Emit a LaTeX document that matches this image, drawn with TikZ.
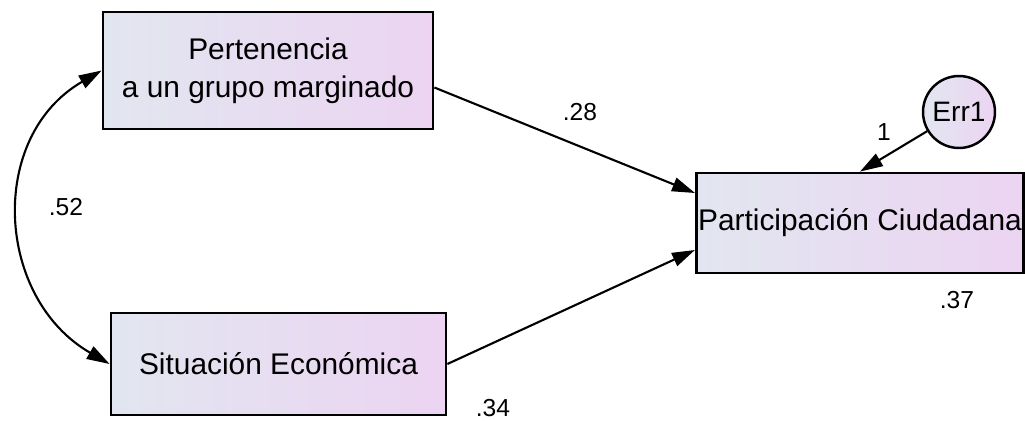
\documentclass[tikz,border=0pt]{standalone}
\usepackage{fontspec}
\setmainfont{Liberation Sans}
\usetikzlibrary{arrows.meta}
\definecolor{boxleft}{RGB}{226,230,240}
\definecolor{boxright}{RGB}{236,212,242}
\tikzset{>={Triangle[length=13pt,width=8pt]}}
\tikzset{
  obsvar/.style={draw, line width=1.6pt, left color=boxleft, right color=boxright,
    align=center, font=\fontsize{17}{21.5}\selectfont},
  errvar/.style={circle, draw, line width=1.4pt, left color=boxleft, right color=boxright,
    minimum size=1.44cm, inner sep=0pt, font=\fontsize{16}{19}\selectfont},
  coef/.style={font=\fontsize{14}{16}\selectfont},
  path/.style={->, line width=1.2pt}
}

\begin{document}
\begin{tikzpicture}[x=0.02cm,y=-0.02cm]
  \useasboundingbox (0,0) rectangle (1025,420);

  % Observed variables
  \node[obsvar, minimum width=6.6cm, minimum height=2.34cm] (perten) at (268,70.5) {Pertenencia\\a un grupo marginado};
  \node[obsvar, minimum width=6.7cm, minimum height=2.04cm] (situac) at (278.5,364) {Situación Económica};
  \node[obsvar, minimum width=6.52cm, minimum height=2cm, inner xsep=1pt] (partic) at (860,223) {Participación Ciudadana};

  % Error term
  \node[errvar] (err) at (959,112) {Err1};

  % Regression paths
  \draw[path] ([yshift=-0.34cm]perten.east) -- ([yshift=0.6cm]partic.west);
  \draw[path] (situac.east) -- ([yshift=-0.54cm]partic.west);
  \draw[path] (err) -- (partic.north);

  % Covariance
  \draw[<->, line width=1.2pt] (perten.west) to[out=210, in=150, looseness=1.15] (situac.west);

  % Estimates
  \node[coef] (c28) at (580,112) {.28};
  \node[coef] (c34) at (493,408) {.34};
  \node[coef] (c37) at (957,300) {.37};
  \node[coef] (c52) at (66,207) {.52};
  \node[coef] (c1) at (884,132) {1};
\end{tikzpicture}
\end{document}
